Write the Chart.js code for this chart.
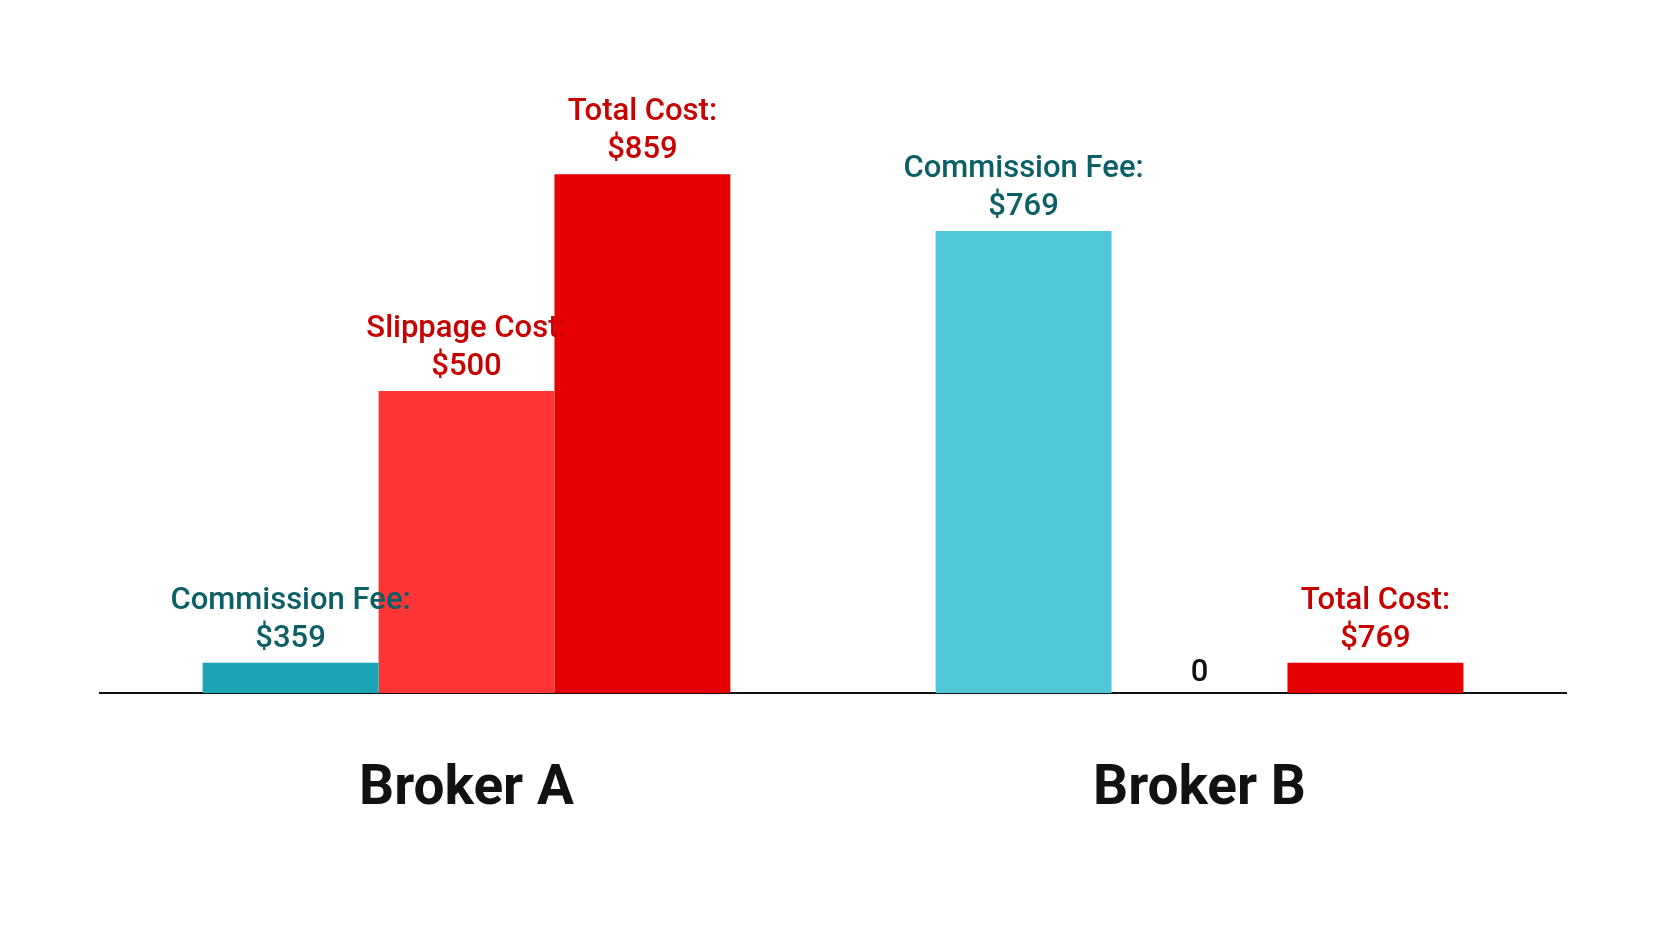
<!DOCTYPE html>
<html><head><meta charset="utf-8">
<script src="https://cdn.jsdelivr.net/npm/chart.js@4/dist/chart.umd.min.js"></script>
<style>html,body{margin:0;background:#fff}#w{width:1666px;height:937px}</style>
</head><body><div id="w"><canvas id="c"></canvas></div>
<script>
const categories = ["Broker A", "Broker B"];
const seriesNames = ["Commission Fee", "Slippage Cost", "Total Cost"];
const commissionHeights = [50, 765];
const slippageHeights = [500, 0];
const totalHeights = [859, 50];
const commissionLabels = ["$359", "$769"];
const slippageLabels = ["$500", "0"];
const totalLabels = ["$859", "$769"];

const labelSets = [commissionLabels, slippageLabels, totalLabels];
const labelPlugin = {
  id: 'lbl',
  afterDatasetsDraw(chart) {
    const ctx = chart.ctx;
    chart.data.datasets.forEach((ds, di) => {
      const meta = chart.getDatasetMeta(di);
      meta.data.forEach((bar, i) => {
        const txt = labelSets[di][i];
        ctx.save();
        ctx.textAlign = 'center';
        ctx.textBaseline = 'alphabetic';
        ctx.font = '500 31px Roboto, "Noto Sans", sans-serif';
        if (txt === "0") {
          ctx.fillStyle = '#111';
          ctx.fillText(txt, bar.x, bar.y - 12);
        } else {
          ctx.fillStyle = di === 0 ? '#0d5f67' : '#c80000';
          ctx.fillText(txt, bar.x, bar.y - 16);
          ctx.fillText(seriesNames[di] + ':', bar.x, bar.y - 54);
        }
        ctx.restore();
      });
    });
  }
};

new Chart(document.getElementById('c'), {
  type: 'bar',
  data: {
    labels: categories,
    datasets: [
      { label: seriesNames[0], data: commissionHeights, backgroundColor: ['#1ba5b4', '#4fc7d6'] },
      { label: seriesNames[1], data: slippageHeights, backgroundColor: '#ff3535' },
      { label: seriesNames[2], data: totalHeights, backgroundColor: '#e60000' }
    ]
  },
  options: {
    responsive: true, maintainAspectRatio: false, animation: false,
    layout: { padding: { left: 100, right: 100, top: 89, bottom: 50 } },
    datasets: { bar: { barPercentage: 1, categoryPercentage: 0.72 } },
    plugins: { legend: { display: false }, tooltip: { enabled: false } },
    scales: {
      y: { display: false, min: 0, max: 1000 },
      x: {
        grid: { display: false, drawTicks: false },
        border: { display: true, color: '#111', width: 2 },
        ticks: { color: '#111', padding: 64, font: { family: 'Roboto, "Noto Sans", sans-serif', size: 55, weight: 'bold' } }
      }
    }
  },
  plugins: [labelPlugin]
});
</script></body></html>
